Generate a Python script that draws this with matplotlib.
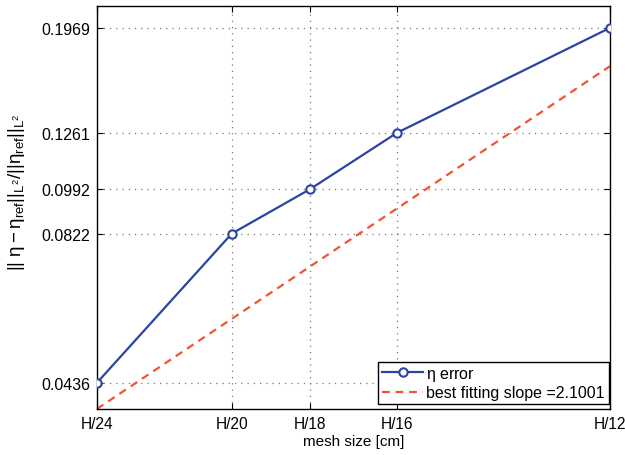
import numpy as np
import matplotlib
matplotlib.use("Agg")
import matplotlib.pyplot as plt
from matplotlib.ticker import FixedLocator, NullLocator

plt.rcParams['font.family'] = ['Liberation Sans', 'DejaVu Sans']
plt.rcParams['mathtext.fontset'] = 'custom'
plt.rcParams['mathtext.rm'] = 'Liberation Sans'
plt.rcParams['mathtext.it'] = 'Liberation Sans:italic'

# data
mesh_div = [24, 20, 18, 16, 12]
tick_labels = ['H/24', 'H/20', 'H/18', 'H/16', 'H/12']
eta_error = [0.0436, 0.0822, 0.0992, 0.1261, 0.1969]
fit_slope = 2.1001
fit_coef = 30.9

h = 1.0 / np.array(mesh_div, dtype=float)
fit = fit_coef * h ** fit_slope

fig = plt.figure(figsize=(6.25, 4.56), dpi=100)
ax = fig.add_axes([0.155, 0.101, 0.821, 0.884])

ax.plot(h, eta_error, '-o', color='#2b44a0', lw=1.6, ms=6, mfc='white', mew=1.5,
        label=r'$\mathrm{\eta}$ error', zorder=3)
ax.plot(h, fit, '--', color='#f2542d', lw=1.6, dashes=(3.5, 2.6),
        label='best fitting slope =%.4f' % fit_slope, zorder=2)

ax.set_xscale('log')
ax.set_yscale('log')
ax.set_xlim(h[0], h[-1])
ax.set_ylim(fit[0], 0.2162)

ax.xaxis.set_major_locator(FixedLocator(h))
ax.xaxis.set_minor_locator(NullLocator())
ax.set_xticklabels(tick_labels)
ax.yaxis.set_major_locator(FixedLocator(eta_error))
ax.yaxis.set_minor_locator(NullLocator())
ax.set_yticklabels(['%.4f' % v for v in eta_error])

ax.tick_params(direction='in', labelsize=11.5, length=4, top=True, right=True, pad=5)
ax.tick_params(axis='x', labelsize=11.2)
ax.grid(True, linestyle=(0, (1, 4)), color='#777777', lw=0.9)
for s in ax.spines.values():
    s.set_linewidth(1.0)

ax.set_xlabel('mesh size [cm]', fontsize=11, labelpad=2)
ax.set_ylabel(r'$||\ \mathrm{\eta} - \mathrm{\eta_{ref}}||_{\mathrm{L}^2}/||\mathrm{\eta_{ref}}||_{\mathrm{L}^2}$',
              fontsize=13.5)
ax.yaxis.set_label_coords(-0.136, 0.54)

leg = ax.legend(loc='lower right', fontsize=11.5, fancybox=False, framealpha=1,
                edgecolor='black', borderpad=0.25, handlelength=2.6,
                handletextpad=0.2, labelspacing=0.15, borderaxespad=0,
                bbox_to_anchor=(0.998, 0.012))
leg.get_frame().set_linewidth(1.0)

fig.savefig('out.png', dpi=100)
